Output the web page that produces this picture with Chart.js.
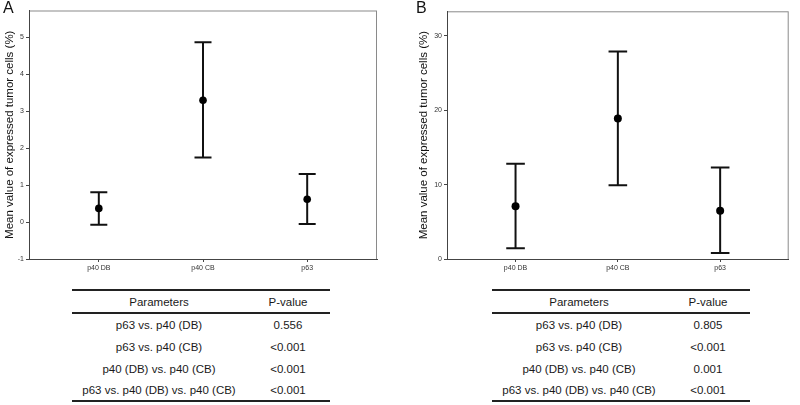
<!DOCTYPE html>
<html>
<head>
<meta charset="utf-8">
<script src="https://cdn.jsdelivr.net/npm/chart.js@4"></script>
<style>
  body { margin: 0; background: #fff; font-family: "Liberation Sans", Arial, sans-serif; }
  #wrap { position: relative; width: 800px; height: 405px; overflow: hidden; }
  canvas { position: absolute; top: 0; }
  .panel { position: absolute; top: 0; font-size: 16px; color: #111; line-height: 16px; }
  table.pv { position: absolute; border-collapse: collapse; font-size: 11.5px; color: #1a1a1a; }
  table.pv th, table.pv td { text-align: center; padding: 0; font-weight: normal; }
  table.pv th { height: 21px; border-top: 2px solid #222; border-bottom: 2px solid #222; }
  table.pv td { height: 22px; }
  table.pv tr:last-child td { border-bottom: 2px solid #222; height: 20px; }
</style>
</head>
<body>
<div id="wrap">
  <canvas id="chartA" width="400" height="280" style="left:0"></canvas>
  <canvas id="chartB" width="400" height="280" style="left:400px"></canvas>
  <div class="panel" style="left:3px">A</div>
  <div class="panel" style="left:416px">B</div>
  <table class="pv" id="tableA" style="left:72px; top:289px; width:258px"></table>
  <table class="pv" id="tableB" style="left:492px; top:289px; width:258px"></table>
</div>
<script>
// categories and values
const categories = ['p40 DB', 'p40 CB', 'p63'];

const meanA  = [0.37, 3.30, 0.62];
const upperA = [0.81, 4.87, 1.30];
const lowerA = [-0.07, 1.75, -0.05];
const yTicksA = [-1, 0, 1, 2, 3, 4, 5];

const meanB  = [7.1, 18.9, 6.5];
const upperB = [12.8, 27.9, 12.3];
const lowerB = [1.45, 9.9, 0.8];
const yTicksB = [0, 10, 20, 30];

const comparisons = ['p63 vs. p40 (DB)', 'p63 vs. p40 (CB)', 'p40 (DB) vs. p40 (CB)', 'p63 vs. p40 (DB) vs. p40 (CB)'];
const pValuesA = ['0.556', '<0.001', '<0.001', '<0.001'];
const pValuesB = ['0.805', '<0.001', '0.001', '<0.001'];

const yTitle = 'Mean value of expressed tumor cells (%)';
const ink = '#111';

// grey box round the plot area (top and right sides show in grey)
const frame = {
    id: 'frame',
    beforeDraw(chart) {
        const a = chart.chartArea, ctx = chart.ctx;
        ctx.save();
        ctx.strokeStyle = '#8a8a8a';
        ctx.lineWidth = 1;
        ctx.strokeRect(a.left + 0.5, a.top + 0.5, a.right - a.left - 1, a.bottom - a.top);
        ctx.restore();
    }
};

function makeChart(id, means, upper, lower, yTicks, yMin, yMax, opts) {
    const whiskers = [];
    const caps = [];
    categories.forEach((c, i) => {
        whiskers.push({x: i, y: lower[i]}, {x: i, y: upper[i]}, {x: i, y: null});
        caps.push({x: i, y: lower[i]}, {x: i, y: upper[i]});
    });

    return new Chart(document.getElementById(id), {
        type: 'scatter',
        data: {
            datasets: [
                {
                    data: means.map((v, i) => ({x: i, y: v})),
                    pointRadius: opts.dot,
                    pointBackgroundColor: '#000',
                    pointBorderWidth: 0
                },
                {
                    data: caps,
                    pointStyle: 'line',
                    pointRadius: opts.cap,
                    pointBorderColor: ink,
                    pointBorderWidth: 2
                },
                {
                    type: 'line',
                    data: whiskers,
                    borderColor: ink,
                    borderWidth: 2,
                    pointRadius: 0,
                    spanGaps: false
                }
            ]
        },
        options: {
            responsive: false,
            animation: false,
            events: [],
            layout: { padding: { top: 5, right: opts.padRight, left: 0, bottom: 0 } },
            plugins: { legend: { display: false }, tooltip: { enabled: false } },
            scales: {
                x: {
                    type: 'linear',
                    min: -0.67,
                    max: 2.67,
                    afterBuildTicks: s => { s.ticks = categories.map((c, i) => ({value: i})); },
                    afterFit: s => { s.height = 21; },
                    grid: { drawOnChartArea: false, tickLength: 3, color: '#444' },
                    border: { color: '#444', width: 1 },
                    ticks: {
                        callback: v => categories[v],
                        font: { family: 'Liberation Sans', size: 7 },
                        color: '#333',
                        padding: 2,
                        maxRotation: 0
                    }
                },
                y: {
                    min: yMin,
                    max: yMax,
                    afterBuildTicks: s => { s.ticks = yTicks.map(v => ({value: v})); },
                    afterFit: s => { s.width = opts.yWidth; },
                    grid: { drawOnChartArea: false, tickLength: 3, color: '#444' },
                    border: { color: '#444', width: 1 },
                    ticks: {
                        font: { family: 'Liberation Sans', size: 7 },
                        color: '#333',
                        padding: 2
                    },
                    title: {
                        display: true,
                        text: yTitle,
                        font: { family: 'Liberation Sans', size: 11.5 },
                        color: '#111',
                        padding: { top: opts.titlePad, bottom: 0 }
                    }
                }
            }
        },
        plugins: [frame]
    });
}

makeChart('chartA', meanA, upperA, lowerA, yTicksA, -1, 5.73,
    { padRight: 23, yWidth: 29, titlePad: 3, dot: 3.8, cap: 8.5 });
makeChart('chartB', meanB, upperB, lowerB, yTicksB, 0, 33.3,
    { padRight: 4, yWidth: 47, titlePad: 17, dot: 4, cap: 9.3 });

// p-value tables
function fillTable(id, pValues) {
    const t = document.getElementById(id);
    let html = '<tr><th style="width:174px">Parameters</th><th>P-value</th></tr>';
    comparisons.forEach((c, i) => {
        html += '<tr><td>' + c + '</td><td>' + pValues[i] + '</td></tr>';
    });
    t.innerHTML = html;
}
fillTable('tableA', pValuesA);
fillTable('tableB', pValuesB);
</script>
</body>
</html>
